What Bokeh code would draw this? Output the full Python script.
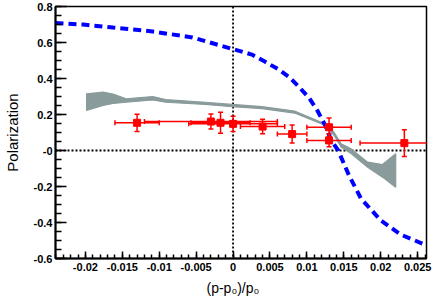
import numpy as np
from bokeh.plotting import figure
from bokeh.models import Range1d, FixedTicker, Span, Title, ColumnDataSource
from bokeh.embed import file_html
from bokeh.resources import INLINE

# ---------------- data ----------------
pt_x = [-0.013, -0.003, -0.0017, 0.0, 0.004, 0.008, 0.013, 0.013, 0.0232]
pt_y = [0.154, 0.161, 0.154, 0.148, 0.133, 0.091, 0.129, 0.056, 0.041]
pt_xerr = [0.003, 0.009, 0.004, 0.006, 0.003, 0.002, 0.003, 0.003, 0.006]
pt_yerr = [0.048, 0.042, 0.058, 0.042, 0.040, 0.050, 0.052, 0.035, 0.074]

curve_x = [-0.02405, -0.0203, -0.01625, -0.01088, -0.00551, 0.0, 0.00255, 0.0043,
           0.00618, 0.00766, 0.009, 0.01035, 0.01142, 0.01249, 0.0133, 0.01424,
           0.01571, 0.01733, 0.02002, 0.0227, 0.02593]
curve_y = [0.708, 0.700, 0.683, 0.661, 0.628, 0.563, 0.533, 0.494,
           0.450, 0.406, 0.350, 0.289, 0.222, 0.139, 0.056, 0.0,
           -0.139, -0.267, -0.389, -0.467, -0.522]

band_x = [-0.01984, -0.0176, -0.01625, -0.01447, -0.01088, -0.00913, -0.00376, -0.00013,
          0.0039, 0.00833, 0.01236, 0.0137, 0.01464, 0.01599, 0.01823, 0.02024, 0.02203]
band_hi = [0.315, 0.324, 0.314, 0.287, 0.300, 0.283, 0.268, 0.256,
           0.244, 0.219, 0.150, 0.100, 0.037, 0.009, -0.065, -0.078, -0.018]
band_lo = [0.222, 0.250, 0.261, 0.268, 0.281, 0.268, 0.256, 0.243,
           0.233, 0.208, 0.142, 0.083, 0.018, -0.017, -0.093, -0.148, -0.204]

x_ticks = [-0.02, -0.015, -0.01, -0.005, 0.0, 0.005, 0.01, 0.015, 0.02, 0.025]
x_tick_labels = ["-0.02", "-0.015", "-0.01", "-0.005", "0", "0.005", "0.01", "0.015", "0.02", "0.025"]
y_ticks = [-0.6, -0.4, -0.2, 0.0, 0.2, 0.4, 0.6, 0.8]
y_tick_labels = ["-0.6", "-0.4", "-0.2", "-0", "0.2", "0.4", "0.6", "0.8"]

x_title = "(p-p\u2080)/p\u2080"
y_title = "Polarization"

# ---------------- figure ----------------
X0, X1 = -0.02405, 0.0262
Y0, Y1 = -0.6, 0.8

p = figure(width=436, height=301, x_range=Range1d(X0, X1), y_range=Range1d(Y0, Y1),
           output_backend="svg", toolbar_location=None,
           min_border_left=52, min_border_right=10, min_border_top=6, min_border_bottom=43,
           background_fill_color="white", border_fill_color="white")

p.xgrid.grid_line_color = None
p.ygrid.grid_line_color = None
p.outline_line_color = "black"
p.outline_line_width = 1.5

x_minor = [round(v, 4) for v in np.arange(-0.024, 0.0265, 0.001)]
y_minor = [round(v, 3) for v in np.arange(-0.6, 0.801, 0.05)]
p.xaxis.ticker = FixedTicker(ticks=x_ticks, minor_ticks=x_minor)
p.yaxis.ticker = FixedTicker(ticks=y_ticks, minor_ticks=y_minor)
p.xaxis.major_label_overrides = dict(zip(x_ticks, x_tick_labels))
p.yaxis.major_label_overrides = dict(zip(y_ticks, y_tick_labels))

for ax in (p.xaxis[0], p.yaxis[0]):
    ax.axis_line_color = "black"
    ax.axis_line_width = 2
    ax.major_tick_line_color = "black"
    ax.minor_tick_line_color = "black"
    ax.major_tick_line_width = 1.5
    ax.minor_tick_line_width = 1.5
    ax.major_tick_out = 0
    ax.minor_tick_out = 0
    ax.major_label_text_font = "Liberation Sans"
    ax.major_label_text_font_style = "bold"
    ax.major_label_text_font_size = "11px"
    ax.major_label_text_color = "black"

p.yaxis.major_tick_in = 11
p.yaxis.minor_tick_in = 6
p.xaxis.major_tick_in = 7
p.xaxis.minor_tick_in = 4
p.yaxis.major_label_standoff = 3
p.xaxis.major_label_standoff = 4

p.yaxis.axis_label = y_title
p.yaxis.axis_label_text_font = "Liberation Sans"
p.yaxis.axis_label_text_font_style = "normal"
p.yaxis.axis_label_text_font_size = "15px"
p.yaxis.axis_label_text_color = "black"
p.yaxis.axis_label_standoff = 10

# x-axis title as a bottom title panel
p.add_layout(Title(text=x_title, align="left", offset=151, standoff=9,
                   text_font="Liberation Sans", text_font_size="14px",
                   text_font_style="normal", text_color="black"), "below")

# dotted zero lines (below glyphs)
p.add_layout(Span(location=0, dimension="width", line_color="black", line_width=1.8,
                  line_dash="2 2", level="underlay"))
p.add_layout(Span(location=0, dimension="height", line_color="black", line_width=1.8,
                  line_dash="2 2", level="underlay"))

# gray band
poly_x = band_x + band_x[::-1]
poly_y = band_hi + band_lo[::-1]
gray = "#8a9b9b"
p.patch(poly_x, poly_y, fill_color=gray, line_color=gray, line_width=1.2)

# blue dashed curve
p.line(curve_x, curve_y, line_color="#0000ff", line_width=4, line_dash="8 5")

# red data points with error bars
red = "#ff0000"
src = ColumnDataSource(dict(
    x=pt_x, y=pt_y,
    xl=[a - b for a, b in zip(pt_x, pt_xerr)], xh=[a + b for a, b in zip(pt_x, pt_xerr)],
    yl=[a - b for a, b in zip(pt_y, pt_yerr)], yh=[a + b for a, b in zip(pt_y, pt_yerr)],
))
p.segment(x0="xl", y0="y", x1="xh", y1="y", source=src, line_color=red, line_width=1.5)
p.segment(x0="x", y0="yl", x1="x", y1="yh", source=src, line_color=red, line_width=1.5)
p.scatter(x="x", y="yl", source=src, marker="dash", size=5, line_color=red, line_width=1.5)
p.scatter(x="x", y="yh", source=src, marker="dash", size=5, line_color=red, line_width=1.5)
p.scatter(x="xl", y="y", source=src, marker="dash", angle=np.pi / 2, size=5, line_color=red, line_width=1.5)
p.scatter(x="xh", y="y", source=src, marker="dash", angle=np.pi / 2, size=5, line_color=red, line_width=1.5)
p.scatter(x="x", y="y", source=src, marker="square", size=7, fill_color=red, line_color=red)

open("out.html", "w").write(file_html(p, INLINE))
